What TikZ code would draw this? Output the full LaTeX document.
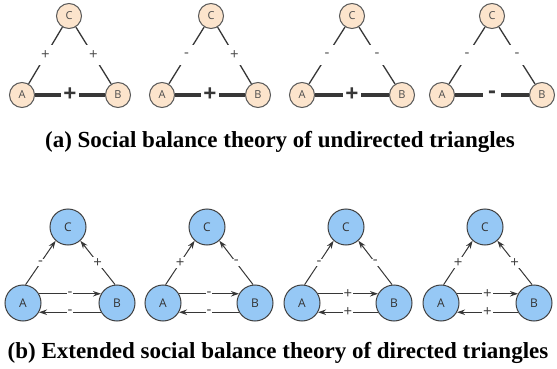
\documentclass[tikz,border=0pt]{standalone}
\usepackage{fontspec}
\setmainfont{Liberation Serif}
\newfontfamily\labfont{Open Sans}
\usetikzlibrary{arrows.meta}
\definecolor{peach}{RGB}{252,228,204}
\definecolor{skyb}{RGB}{150,200,245}
\definecolor{edgec}{RGB}{55,55,55}
\begin{document}
\begin{tikzpicture}[x=1pt,y=-1pt,
 pnode/.style={circle,draw=black!65,fill=peach,line width=1pt,minimum size=25pt,inner sep=0pt,font=\labfont\fontsize{11}{11}\selectfont,text=black!70},
 bnode/.style={circle,draw=black!75,fill=skyb,line width=1pt,minimum size=36pt,inner sep=0pt,font=\labfont\fontsize{12}{12}\selectfont,text=black!80},
 tline/.style={draw=edgec,line width=1.3pt},
 thk/.style={draw=edgec,line width=3.2pt},
 lbl/.style={fill=white,inner sep=0pt,minimum size=20pt,font=\labfont\fontsize{15}{15}\selectfont,text=black!70},
 blbl/.style={fill=white,inner sep=0pt,minimum width=18pt,minimum height=10pt,font=\labfont\bfseries\fontsize{23}{23}\selectfont,text=edgec},
 arr/.style={draw=edgec,line width=1pt,-{Stealth[length=8pt,width=5.5pt]}},
 alb/.style={fill=white,inner sep=1pt,font=\labfont\fontsize{15}{15}\selectfont,text=black!75},
 captxt/.style={font=\bfseries\fontsize{23}{23}\selectfont}
]
\useasboundingbox (0,0) rectangle (557,369);
% top row
\foreach \i/\ax/\cx/\bx/\l/\r/\m in {1/22/69/118/+/+/+, 2/162/211/258/-/+/+, 3/302/352/402/-/-/+, 4/442/492/542/-/-/-}{
  \node[pnode] (ta\i) at (\ax,95) {A};
  \node[pnode] (tb\i) at (\bx,95) {B};
  \node[pnode] (tc\i) at (\cx,16) {C};
  \draw[tline] (tc\i) -- node[lbl] {\l} (ta\i);
  \draw[tline] (tc\i) -- node[lbl] {\r} (tb\i);
  \draw[thk] (ta\i) -- node[blbl] {\m} (tb\i);
}
\node[captxt] (capa) at (280,142) {(a) Social balance theory of undirected triangles};
% bottom row
\foreach \i/\ax/\cx/\bx/\p/\q/\s/\t in {1/23/68/117/-/+/-/-, 2/163/207/255/+/-/-/-, 3/302/346/394/-/-/+/+, 4/441/485/534/+/+/+/+}{
  \node[bnode] (ba\i) at (\ax,303) {A};
  \node[bnode] (bb\i) at (\bx,303) {B};
  \node[bnode] (bc\i) at (\cx,227) {C};
  \draw[arr] (ba\i.82) -- node[alb] {\p} (bc\i.228);
  \draw[arr] (bb\i.96) -- node[alb] {\q} (bc\i.312);
  \draw[arr] (ba\i.30) -- node[alb] {\s} (bb\i.150);
  \draw[arr] (bb\i.210) -- node[alb] {\t} (ba\i.330);
}
\node[captxt] (capb) at (278,353) {(b) Extended social balance theory of directed triangles};
\end{tikzpicture}
\end{document}
